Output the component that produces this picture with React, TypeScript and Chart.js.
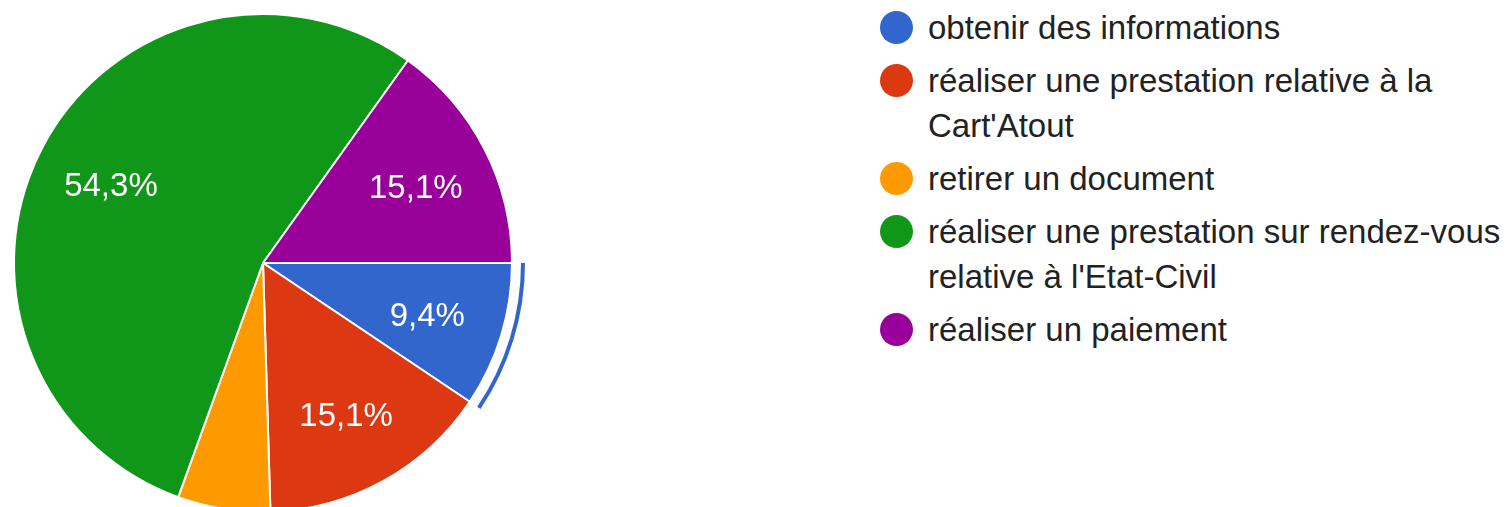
import React, { useEffect, useRef } from "react";
import { Chart, registerables } from "chart.js";

Chart.register(...registerables);

const categories: string[] = [
  "obtenir des informations",
  "réaliser une prestation relative à la Cart'Atout",
  "retirer un document",
  "réaliser une prestation sur rendez-vous relative à l'Etat-Civil",
  "réaliser un paiement",
];
const percentages: number[] = [9.4, 15.1, 6.0, 54.3, 15.1];
const colors: string[] = ["#3366CC", "#DC3912", "#FF9900", "#109618", "#990099"];
const highlightedIndex = 0;
const FONT = "'Liberation Sans', Arial, sans-serif";

const sliceLabels = {
  id: "sliceLabels",
  afterDatasetsDraw(chart: any) {
    const ctx = chart.ctx;
    const meta = chart.getDatasetMeta(0);
    const values = chart.data.datasets[0].data as number[];
    ctx.save();
    ctx.font = `33px ${FONT}`;
    ctx.fillStyle = "#ffffff";
    ctx.textAlign = "center";
    ctx.textBaseline = "middle";
    meta.data.forEach((arc: any, i: number) => {
      const v = values[i];
      if (v < 7) return;
      const p = arc.getProps(["x", "y", "startAngle", "endAngle", "outerRadius"], true);
      const mid = (p.startAngle + p.endAngle) / 2;
      const r = p.outerRadius * 0.69;
      const label = v.toFixed(1).replace(".", ",") + "%";
      ctx.fillText(label, p.x + Math.cos(mid) * r, p.y + Math.sin(mid) * r + 4);
    });
    // highlight arc outside the selected slice
    const h: any = meta.data[highlightedIndex];
    if (h) {
      const p = h.getProps(["x", "y", "startAngle", "endAngle", "outerRadius"], true);
      ctx.beginPath();
      ctx.strokeStyle = colors[highlightedIndex];
      ctx.lineWidth = 4;
      ctx.lineCap = "butt";
      ctx.arc(p.x, p.y, p.outerRadius + 11, p.startAngle, p.endAngle);
      ctx.stroke();
    }
    ctx.restore();
  },
};

export default function App() {
  const canvasRef = useRef<HTMLCanvasElement | null>(null);

  useEffect(() => {
    if (!canvasRef.current) return;
    const chart = new Chart(canvasRef.current, {
      type: "pie",
      data: {
        labels: categories,
        datasets: [
          {
            data: percentages,
            backgroundColor: colors,
            borderColor: "#ffffff",
            borderWidth: 2,
          },
        ],
      },
      options: {
        animation: false,
        responsive: false,
        events: [],
        rotation: 90,
        radius: 249,
        layout: { padding: 0 },
        plugins: {
          legend: { display: false },
          tooltip: { enabled: false },
        },
      },
      plugins: [sliceLabels],
    });
    return () => chart.destroy();
  }, []);

  return (
    <div
      style={{
        position: "fixed",
        left: 0,
        top: 0,
        width: 1508,
        height: 507,
        overflow: "hidden",
        background: "#ffffff",
      }}
    >
      <canvas
        ref={canvasRef}
        width={526}
        height={526}
        style={{ position: "absolute", left: 0, top: 0, width: 526, height: 526 }}
      />
      <div style={{ position: "absolute", left: 880, top: 4.5 }}>
        {categories.map((c, i) => (
          <div key={c} style={{ display: "flex", alignItems: "flex-start", marginBottom: 8 }}>
            <div
              style={{
                width: 33,
                height: 33,
                borderRadius: "50%",
                background: colors[i],
                marginTop: 6,
                flex: "0 0 33px",
              }}
            />
            <div
              style={{
                marginLeft: 15,
                width: 595,
                font: `33px ${FONT}`,
                lineHeight: "45px",
                color: "#222222",
              }}
            >
              {c}
            </div>
          </div>
        ))}
      </div>
    </div>
  );
}
